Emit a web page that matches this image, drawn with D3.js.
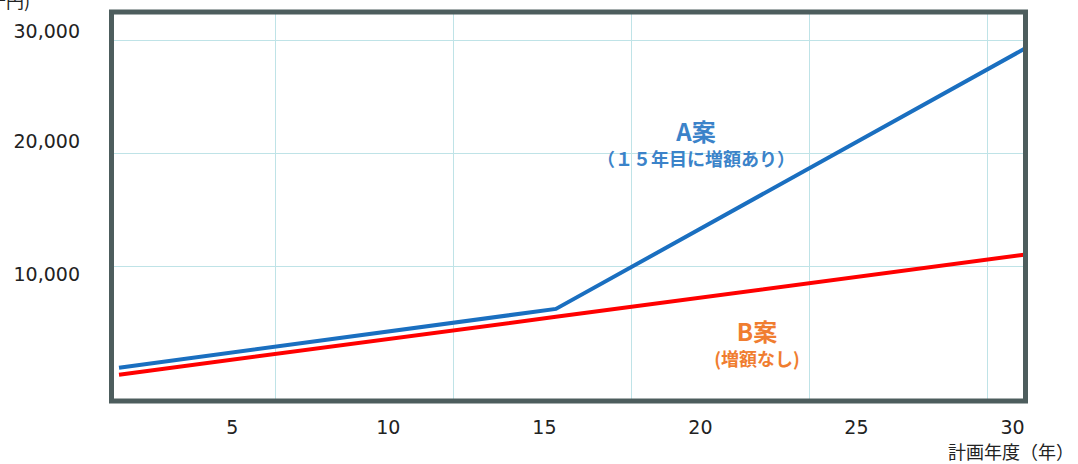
<!DOCTYPE html>
<html lang="ja">
  <head>
    <meta charset="UTF-8" />
    <title>A案 / B案</title>
    <script src="https://cdn.jsdelivr.net/npm/d3@7"></script>
    <style>
      body { margin: 0; background: #fff; }
      text { font-family: 'DejaVu Sans', Verdana, sans-serif; }
      .jp { font-family: 'Noto Sans CJK JP', sans-serif; }
    </style>
  </head>
  <body>
    <div id="chart_svg"></div>
    <script>
      // data
      const years = [1, 15, 30]
      const planA = [1000, 6200, 29200]
      const planB = [380, 5500, 11000]
      const xTicks = [5, 10, 15, 20, 25, 30]
      const yTicks = [10000, 20000, 30000]
      const gridYears = [6, 11.7, 17.4, 23.1, 28.8]

      const width = 1078
      const height = 464
      const frame = { left: 111.5, top: 12, right: 1025.5, bottom: 401 }

      const svg = d3
        .select('#chart_svg')
        .append('svg')
        .attr('width', width)
        .attr('height', height)

      const x = d3.scaleLinear().domain([1, 30]).range([119, 1024])
      const y = d3.scaleLinear().domain([0, 30000]).range([379, 40])

      svg
        .append('defs')
        .append('clipPath')
        .attr('id', 'plot')
        .append('rect')
        .attr('x', frame.left)
        .attr('y', frame.top)
        .attr('width', frame.right - frame.left)
        .attr('height', frame.bottom - frame.top)

      // grid
      const grid = svg.append('g').attr('stroke', '#bfe3e7').attr('stroke-width', 1)
      grid
        .selectAll('.gx')
        .data(gridYears)
        .join('line')
        .attr('x1', d => Math.round(x(d)) + 0.5)
        .attr('x2', d => Math.round(x(d)) + 0.5)
        .attr('y1', frame.top)
        .attr('y2', frame.bottom)
      grid
        .selectAll('.gy')
        .data(yTicks)
        .join('line')
        .attr('x1', frame.left)
        .attr('x2', frame.right)
        .attr('y1', d => Math.round(y(d)) + 0.5)
        .attr('y2', d => Math.round(y(d)) + 0.5)

      // lines
      const line = d3
        .line()
        .x(d => x(d[0]))
        .y(d => y(d[1]))
      const series = [
        { values: planB, color: '#ff0000' },
        { values: planA, color: '#1a6fc0' }
      ]
      svg
        .append('g')
        .attr('clip-path', 'url(#plot)')
        .selectAll('path')
        .data(series)
        .join('path')
        .attr('fill', 'none')
        .attr('stroke', d => d.color)
        .attr('stroke-width', 4)
        .attr('d', d => line(d3.zip(years, d.values)))

      // frame
      svg
        .append('rect')
        .attr('x', frame.left)
        .attr('y', frame.top)
        .attr('width', frame.right - frame.left)
        .attr('height', frame.bottom - frame.top)
        .attr('fill', 'none')
        .attr('stroke', '#4d5d5d')
        .attr('stroke-width', 5)

      // axis labels
      const xAxis = d3.axisBottom(x).tickValues(xTicks).tickSize(0).tickPadding(0)
      const gx = svg.append('g').attr('transform', 'translate(-12,434)').call(xAxis)
      gx.select('.domain').remove()
      gx.selectAll('text')
        .attr('dy', 0)
        .attr('font-size', 19)
        .attr('fill', '#222')
        .style('font-family', "'DejaVu Sans', sans-serif")

      const yShift = [15, -5, -2]
      svg
        .append('g')
        .selectAll('text')
        .data(yTicks)
        .join('text')
        .attr('x', 80)
        .attr('y', (d, i) => y(d) + yShift[i])
        .attr('text-anchor', 'end')
        .attr('font-size', 19)
        .attr('fill', '#222')
        .text(d3.format(','))

      svg
        .append('text')
        .attr('class', 'jp')
        .attr('x', 30)
        .attr('y', 8)
        .attr('text-anchor', 'end')
        .attr('font-size', 18)
        .attr('fill', '#222')
        .text('(千円)')

      svg
        .append('text')
        .attr('class', 'jp')
        .attr('x', 1074)
        .attr('y', 459)
        .attr('text-anchor', 'end')
        .attr('font-size', 18)
        .attr('fill', '#222')
        .text('計画年度（年）')

      // annotations
      const notes = [
        { title: 'A案', sub: '（１５年目に増額あり）', cx: 696, ty: 141, color: '#3b83c9' },
        { title: 'B案', sub: '(増額なし)', cx: 757, ty: 341, color: '#f07d30' }
      ]
      const ng = svg
        .append('g')
        .selectAll('g')
        .data(notes)
        .join('g')
        .attr('class', 'jp')
        .attr('text-anchor', 'middle')
        .attr('font-weight', 'bold')
        .attr('fill', d => d.color)
      ng.append('text')
        .attr('class', 'jp')
        .attr('x', d => d.cx)
        .attr('y', d => d.ty)
        .attr('font-size', 24)
        .text(d => d.title)
      ng.append('text')
        .attr('class', 'jp')
        .attr('x', d => d.cx)
        .attr('y', d => d.ty + 25)
        .attr('font-size', 18)
        .text(d => d.sub)
    </script>
  </body>
</html>
